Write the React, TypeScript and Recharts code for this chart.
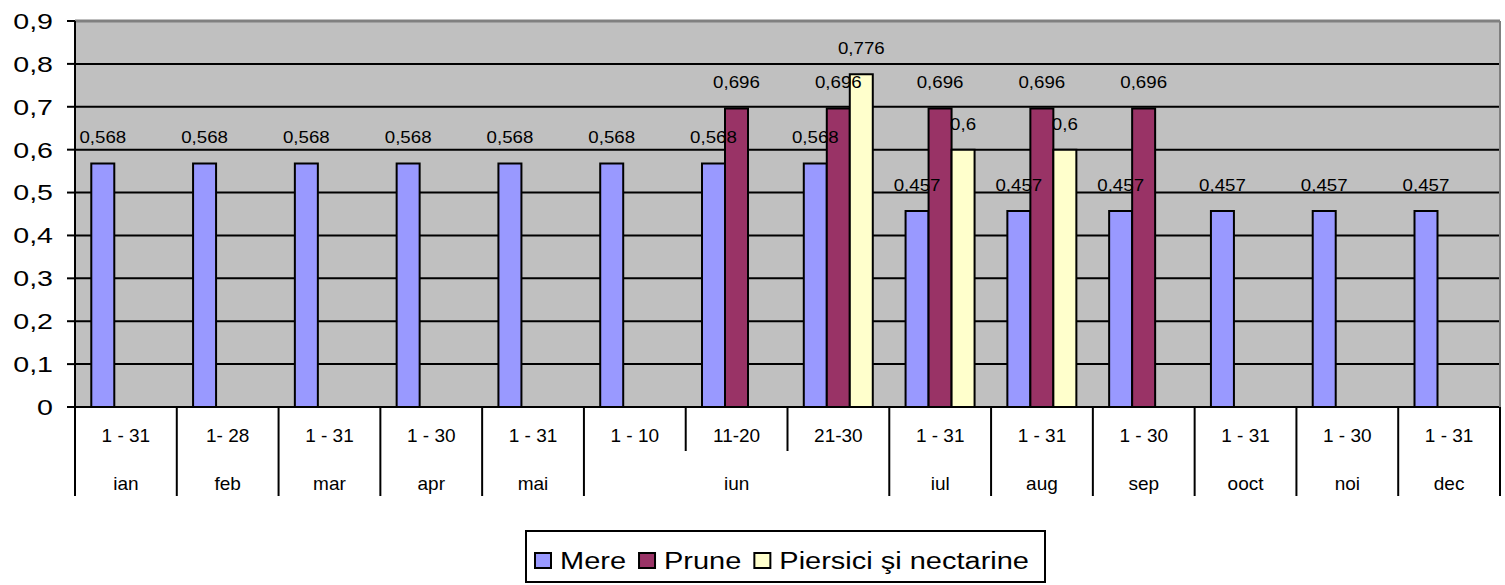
import React from 'react';
import {
  BarChart,
  Bar,
  XAxis,
  YAxis,
  CartesianGrid,
  LabelList,
  ReferenceLine,
} from 'recharts';

// chart values
const periods = ['1 - 31', '1- 28', '1 - 31', '1 - 30', '1 - 31', '1 - 10', '11-20', '21-30', '1 - 31', '1 - 31', '1 - 30', '1 - 31', '1 - 30', '1 - 31'];
const months = ['ian', 'feb', 'mar', 'apr', 'mai', 'iun', 'iun', 'iun', 'iul', 'aug', 'sep', 'ooct', 'noi', 'dec'];
const mere = [0.568, 0.568, 0.568, 0.568, 0.568, 0.568, 0.568, 0.568, 0.457, 0.457, 0.457, 0.457, 0.457, 0.457];
const prune = [null, null, null, null, null, null, 0.696, 0.696, 0.696, 0.696, 0.696, null, null, null];
const piersici = [null, null, null, null, null, null, null, 0.776, 0.6, 0.6, null, null, null, null];
const yTicks = [0, 0.1, 0.2, 0.3, 0.4, 0.5, 0.6, 0.7, 0.8, 0.9];
const seriesNames = ['Mere', 'Prune', 'Piersici şi nectarine'];
const seriesKeys = ['mere', 'prune', 'piersici'];
const seriesColors = ['#9999FF', '#993366', '#FFFFCC'];

const data = periods.map((p, i) => ({
  period: p,
  month: months[i],
  mere: mere[i],
  prune: prune[i],
  piersici: piersici[i],
}));

const FONT = '"Liberation Sans", Arial, sans-serif';
const PLOT_W = 1425;
const BAND = PLOT_W / periods.length;

const comma = (v: number) => String(v).replace('.', ',');

function YTick(props: any) {
  const { x, y, payload } = props;
  const v = payload.value;
  const label = v === 0 ? '0' : v.toFixed(1).replace('.', ',');
  return (
    <g transform={`translate(${x},${y}) scale(1.3,1)`}>
      <text x={0} y={0} dy="0.36em" textAnchor="end" fontSize={22} fontFamily={FONT} fill="#000" stroke="none">
        {label}
      </text>
    </g>
  );
}

function PeriodTick(props: any) {
  const { x, y, index } = props;
  const i = index;
  const left = x - BAND / 2;
  const right = x + BAND / 2;
  const startsGroup = i === 0 || months[i] !== months[i - 1];
  let groupLen = 1;
  if (startsGroup) {
    while (i + groupLen < months.length && months[i + groupLen] === months[i]) groupLen++;
  }
  return (
    <g>
      <line x1={left} x2={left} y1={y} y2={y + (startsGroup ? 89 : 44)} stroke="#000" strokeWidth={2} />
      {i === months.length - 1 && (
        <line x1={right} x2={right} y1={y} y2={y + 89} stroke="#000" strokeWidth={2} />
      )}
      <text x={x} y={y + 35} textAnchor="middle" fontSize={19} fontFamily={FONT} fill="#000" stroke="none">
        {periods[i]}
      </text>
      {startsGroup && (
        <text x={left + (groupLen * BAND) / 2} y={y + 83} textAnchor="middle" fontSize={19} fontFamily={FONT} fill="#000" stroke="none">
          {months[i]}
        </text>
      )}
    </g>
  );
}

function ValueLabel(props: any) {
  const { x, y, width, value } = props;
  if (value == null || x == null) return null;
  const cx = Number(x) + Number(width) / 2;
  const cy = Number(y) - 20;
  return (
    <g transform={`translate(${cx},${cy}) scale(1.1,1)`}>
      <text x={0} y={0} textAnchor="middle" fontSize={17} fontFamily={FONT} fill="#000" stroke="none">
        {comma(value)}
      </text>
    </g>
  );
}

let measureCtx: CanvasRenderingContext2D | null = null;
function textWidth(t: string, size: number) {
  if (!measureCtx) measureCtx = document.createElement('canvas').getContext('2d');
  if (!measureCtx) return t.length * size * 0.5;
  measureCtx.font = `${size}px ${FONT}`;
  return measureCtx.measureText(t).width;
}

function LegendBox() {
  const stretch = 1.26;
  let cursor = 8;
  const items = seriesNames.map((name, i) => {
    const sq = cursor;
    const tx = sq + 25;
    const w = textWidth(name, 23) * stretch;
    cursor = tx + w + 13;
    return (
      <g key={name}>
        <rect x={sq} y={21} width={16} height={15} fill={seriesColors[i]} stroke="#000" strokeWidth={2} />
        <text x={tx} y={37} fontSize={23} fontFamily={FONT} fill="#000" textLength={w} lengthAdjust="spacingAndGlyphs">
          {name}
        </text>
      </g>
    );
  });
  return (
    <div
      style={{
        position: 'absolute',
        left: 525,
        top: 530,
        width: 521,
        height: 53,
        border: '2px solid #000',
        boxSizing: 'border-box',
        background: '#fff',
      }}
    >
      <svg width={517} height={49} style={{ display: 'block' }}>
        {items}
      </svg>
    </div>
  );
}

export default function App() {
  return (
    <div style={{ position: 'relative', width: 1505, height: 585, background: '#fff' }}>
      <style>{'body{margin:0}'}</style>
      <BarChart
        width={1505}
        height={585}
        data={data}
        margin={{ top: 21, right: 0, bottom: 88, left: 0 }}
        barGap={0}
        barCategoryGap="16%"
      >
        <CartesianGrid vertical={false} stroke="#000" strokeWidth={2} fill="#C0C0C0" fillOpacity={1} />
        <ReferenceLine y={0.9} stroke="#808080" strokeWidth={3} />
        <XAxis
          dataKey="period"
          interval={0}
          height={90}
          tickSize={0}
          tickMargin={0}
          tickLine={false}
          axisLine={{ stroke: '#000', strokeWidth: 2 }}
          tick={<PeriodTick />}
        />
        <YAxis
          width={75}
          domain={[0, 0.9]}
          ticks={yTicks}
          interval={0}
          tickSize={8}
          tickMargin={14}
          tickLine={{ stroke: '#000', strokeWidth: 2 }}
          axisLine={{ stroke: '#000', strokeWidth: 2 }}
          tick={<YTick />}
        />
        <YAxis
          yAxisId="r"
          orientation="right"
          width={5}
          tick={false}
          tickLine={false}
          axisLine={{ stroke: '#808080', strokeWidth: 2 }}
        />
        {seriesKeys.map((k, i) => (
          <Bar
            key={k}
            dataKey={k}
            name={seriesNames[i]}
            fill={seriesColors[i]}
            stroke="#000"
            strokeWidth={2}
            isAnimationActive={false}
          >
            <LabelList dataKey={k} content={<ValueLabel />} />
          </Bar>
        ))}
      </BarChart>
      <LegendBox />
    </div>
  );
}
